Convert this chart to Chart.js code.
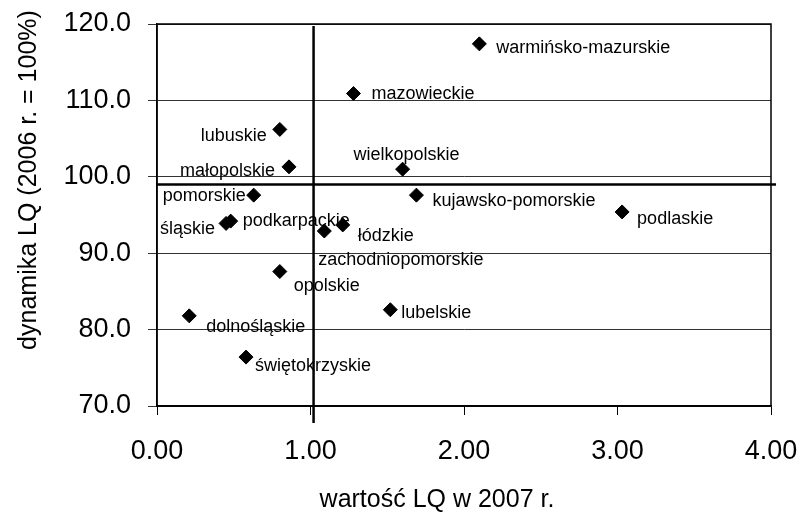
<!DOCTYPE html>
<html>
<head>
<meta charset="utf-8">
<script src="https://cdn.jsdelivr.net/npm/chart.js@4.4.0/dist/chart.umd.min.js"></script>
<style>
  html, body { margin: 0; padding: 0; background: #fff; }
  #wrap { width: 800px; height: 513px; }
</style>
</head>
<body>
<div id="wrap"><canvas id="chart" width="800" height="513"></canvas></div>
<script>
// Regions (voivodeships) and their values
const regions = [
  'warmińsko-mazurskie', 'mazowieckie', 'lubuskie', 'małopolskie',
  'wielkopolskie', 'pomorskie', 'kujawsko-pomorskie', 'podlaskie',
  'śląskie', 'podkarpackie', 'łódzkie', 'zachodniopomorskie',
  'opolskie', 'lubelskie', 'dolnośląskie', 'świętokrzyskie'
];
// LQ value in 2007 (x)
const lq2007 = [2.10, 1.28, 0.80, 0.86, 1.60, 0.63, 1.69, 3.03,
  0.45, 0.48, 1.21, 1.09, 0.80, 1.52, 0.21, 0.58];
// LQ dynamics, 2006 = 100% (y)
const lqDynamics = [117.4, 110.9, 106.2, 101.3, 101.0, 97.6, 97.6, 95.4,
  93.9, 94.2, 93.7, 92.9, 87.6, 82.6, 81.8, 76.4];

// reference lines (crosshair)
const refLq = 1.02;
const refDynamics = 99.0;

const xTitle = 'wartość LQ w 2007 r.';
const yTitle = 'dynamika LQ (2006 r. = 100%)';

// label placement next to each point: [dx, dy, align] in pixels
const labelOffsets = [
  [17, 4, 'left'], [18, 1, 'left'], [-13, 7, 'right'], [-14, 4, 'right'],
  [4, -14, 'center'], [-8, 1, 'right'], [16, 6, 'left'], [15, 7, 'left'],
  [-11, 6, 'right'], [12, 0, 'left'], [15, 11, 'left'], [-6, 29, 'left'],
  [14, 14, 'left'], [11, 3, 'left'], [17, 11, 'left'], [9, 9, 'left']
];

const fontFamily = '"Liberation Sans", Arial, sans-serif';

// draws the point labels, the plot frame, the crosshair and axis titles
const decorPlugin = {
  id: 'decor',
  afterDatasetsDraw(chart) {
    const ctx = chart.ctx;
    const area = chart.chartArea;
    const xs = chart.scales.x;
    const ys = chart.scales.y;

    ctx.save();
    // frame around plot area
    ctx.strokeStyle = '#000';
    ctx.lineWidth = 1.5;
    ctx.strokeRect(area.left, area.top, area.right - area.left, area.bottom - area.top);

    // crosshair lines
    ctx.lineWidth = 2.5;
    const vx = xs.getPixelForValue(refLq);
    ctx.beginPath();
    ctx.moveTo(vx, area.top + 2);
    ctx.lineTo(vx, area.bottom + 17);
    ctx.stroke();
    const hy = ys.getPixelForValue(refDynamics);
    ctx.beginPath();
    ctx.moveTo(area.left, hy);
    ctx.lineTo(area.right + 5, hy);
    ctx.stroke();

    // point labels
    ctx.fillStyle = '#000';
    ctx.font = '18px ' + fontFamily;
    ctx.textBaseline = 'middle';
    const meta = chart.getDatasetMeta(0);
    meta.data.forEach((pt, i) => {
      const [dx, dy, align] = labelOffsets[i];
      ctx.textAlign = align;
      ctx.fillText(regions[i], pt.x + dx, pt.y + dy);
    });

    // axis titles
    ctx.font = '25px ' + fontFamily;
    ctx.textAlign = 'center';
    ctx.fillText(xTitle, 437, 500);
    ctx.translate(29, 180);
    ctx.rotate(-Math.PI / 2);
    ctx.fillText(yTitle, 0, 0);
    ctx.restore();
  }
};

const ctx = document.getElementById('chart').getContext('2d');
new Chart(ctx, {
  type: 'scatter',
  data: {
    datasets: [
      {
        label: 'LQ',
        data: lq2007.map((x, i) => ({ x: x, y: lqDynamics[i] })),
        backgroundColor: '#000',
        borderColor: '#000',
        pointStyle: 'rectRot',
        pointRadius: 7,
        pointHoverRadius: 7,
      },
    ],
  },
  options: {
    responsive: false,
    animation: false,
    layout: { padding: { top: 24, right: 29, bottom: 0, left: 0 } },
    plugins: {
      legend: { display: false },
      tooltip: { enabled: false },
    },
    scales: {
      x: {
        type: 'linear',
        min: 0,
        max: 4,
        afterFit: scale => {
          scale.height = 107;
          scale.paddingLeft = 0;
          scale.paddingRight = 0;
        },
        grid: {
          drawOnChartArea: false,
          color: '#000',
          tickLength: 9,
        },
        border: { color: '#000', width: 1.5 },
        ticks: {
          stepSize: 1,
          padding: 20,
          color: '#000',
          font: { family: fontFamily, size: 27 },
          callback: v => v.toFixed(2),
        },
      },
      y: {
        min: 70,
        max: 120,
        afterFit: scale => {
          scale.width = 157;
          scale.paddingTop = 0;
          scale.paddingBottom = 0;
        },
        grid: {
          color: '#333',
          lineWidth: 1,
          tickLength: 9,
        },
        border: { color: '#000', width: 1.5 },
        ticks: {
          stepSize: 10,
          padding: 17,
          color: '#000',
          font: { family: fontFamily, size: 27 },
          callback: v => v.toFixed(1),
        },
      },
    },
  },
  plugins: [decorPlugin],
});
</script>
</body>
</html>
